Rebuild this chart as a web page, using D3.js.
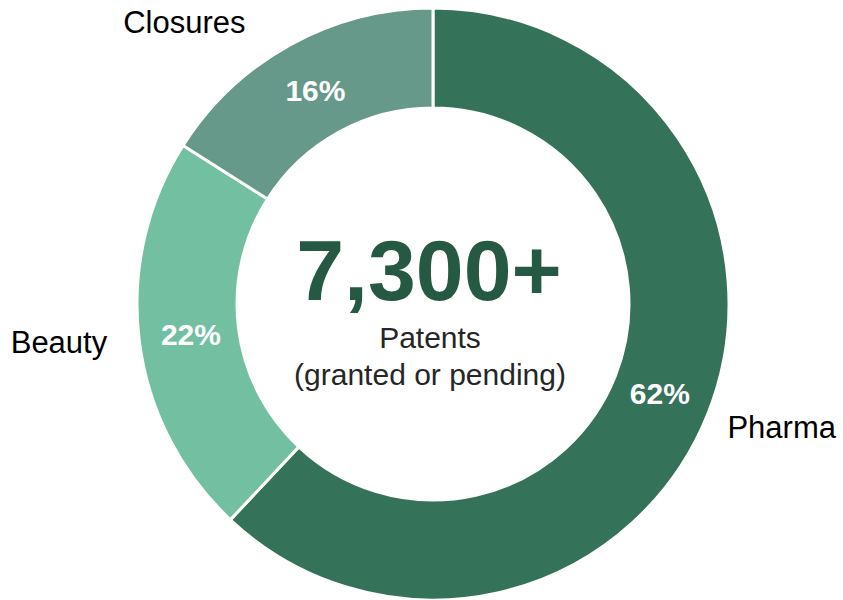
<!DOCTYPE html>
<html>
<head>
<meta charset="utf-8">
<script src="https://cdn.jsdelivr.net/npm/d3@7"></script>
<style>
  body { margin: 0; background: #fff; }
  text { font-family: "Liberation Sans", Arial, sans-serif; }
</style>
</head>
<body>
<svg></svg>
<script>
var WIDTH = 843;
var HEIGHT = 600;

// chart data
var categories = ["Pharma", "Beauty", "Closures"];
var shares = [62, 22, 16];
var colors = ["#34725a", "#72c0a1", "#67998a"];
var totalLabel = "7,300+";
var subLines = ["Patents", "(granted or pending)"];

// nudges for the outside category labels
var labelNudge = {
    "Pharma": [0, -15],
    "Beauty": [-2, -9],
    "Closures": [-68, 47]
};

var cx = 433, cy = 304;
var outerR = 296, innerR = 196;

var svg = d3.select("svg")
    .attr("width", WIDTH)
    .attr("height", HEIGHT);

var data = categories.map(function(c, i) {
    return { name: c, value: shares[i], color: colors[i] };
});

var pie = d3.pie()
    .sort(null)
    .value(function(d) { return d.value; });

var arc = d3.arc()
    .innerRadius(innerR)
    .outerRadius(outerR);

var midArc = d3.arc()
    .innerRadius(244)
    .outerRadius(244);

var outArc = d3.arc()
    .innerRadius(375)
    .outerRadius(375);

var g = svg.append("g")
    .attr("transform", "translate(" + cx + "," + cy + ")");

var arcs = pie(data);

g.selectAll("path.slice")
    .data(arcs)
    .enter().append("path")
    .attr("class", "slice")
    .attr("d", arc)
    .attr("fill", function(d) { return d.data.color; })
    .attr("stroke", "#fff")
    .attr("stroke-width", 3);

g.selectAll("text.pct")
    .data(arcs)
    .enter().append("text")
    .attr("class", "pct")
    .attr("transform", function(d) { return "translate(" + midArc.centroid(d) + ")"; })
    .attr("text-anchor", "middle")
    .attr("dy", "0.35em")
    .attr("fill", "#fff")
    .attr("font-weight", "bold")
    .attr("font-size", 30)
    .text(function(d) { return d.data.value + "%"; });

g.selectAll("text.cat")
    .data(arcs)
    .enter().append("text")
    .attr("class", "cat")
    .attr("transform", function(d)
    {
        var p = outArc.centroid(d);
        var n = labelNudge[d.data.name];
        return "translate(" + (p[0] + n[0]) + "," + (p[1] + n[1]) + ")";
    })
    .attr("text-anchor", "middle")
    .attr("dy", "0.35em")
    .attr("fill", "#000")
    .attr("font-size", 31)
    .text(function(d) { return d.data.name; });

g.append("text")
    .attr("x", -4)
    .attr("y", -4)
    .attr("text-anchor", "middle")
    .attr("fill", "#265943")
    .attr("font-weight", "bold")
    .attr("font-size", 86)
    .text(totalLabel);

g.selectAll("text.sub")
    .data(subLines)
    .enter().append("text")
    .attr("class", "sub")
    .attr("x", -3)
    .attr("y", function(d, i) { return 44 + i * 37; })
    .attr("text-anchor", "middle")
    .attr("fill", "#262626")
    .attr("font-size", 30)
    .text(function(d) { return d; });
</script>
</body>
</html>
